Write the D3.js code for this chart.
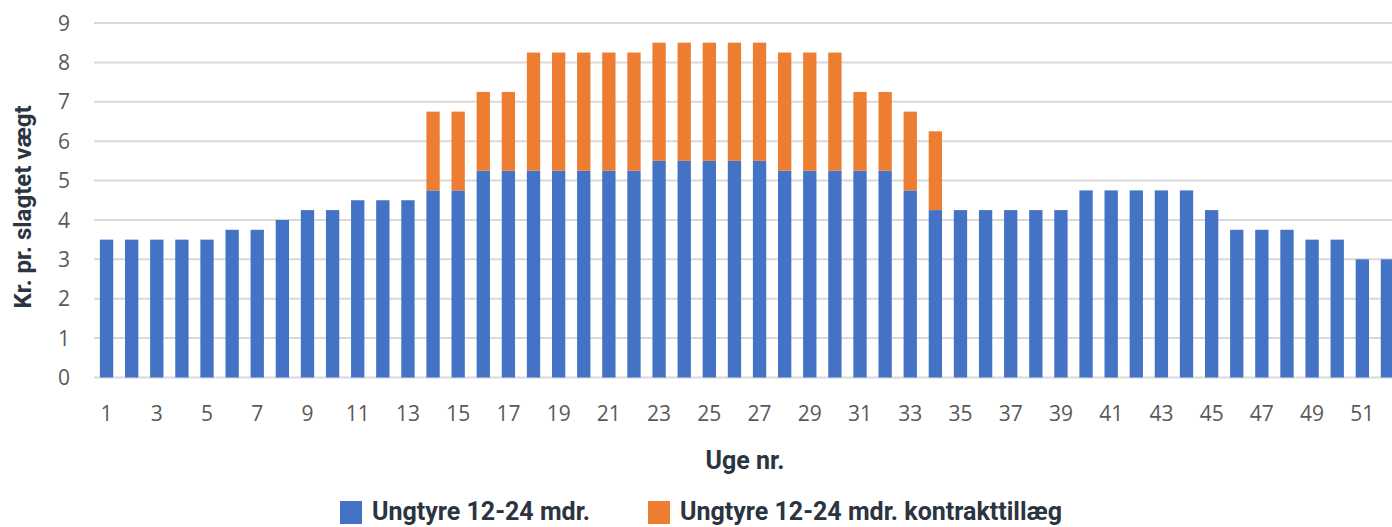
<!DOCTYPE html>
<html><head><meta charset="utf-8">
<script src="https://cdn.jsdelivr.net/npm/d3@7"></script>
<style>body{margin:0;background:#fff}svg{display:block}</style>
</head><body>
<svg id="c" width="1392" height="527"></svg>
<script>
const weeks = d3.range(1, 53);
const base = [3.5,3.5,3.5,3.5,3.5,3.75,3.75,4.0,4.25,4.25,4.5,4.5,4.5,4.75,4.75,5.25,5.25,5.25,5.25,5.25,5.25,5.25,5.5,5.5,5.5,5.5,5.5,5.25,5.25,5.25,5.25,5.25,4.75,4.25,4.25,4.25,4.25,4.25,4.25,4.75,4.75,4.75,4.75,4.75,4.25,3.75,3.75,3.75,3.5,3.5,3.0,3.0];
const bonus = [0,0,0,0,0,0,0,0,0,0,0,0,0,2.0,2.0,2.0,2.0,3.0,3.0,3.0,3.0,3.0,3.0,3.0,3.0,3.0,3.0,3.0,3.0,3.0,2.0,2.0,2.0,2.0,0,0,0,0,0,0,0,0,0,0,0,0,0,0,0,0,0,0];
const yTicks = [0,1,2,3,4,5,6,7,8,9];
const seriesNames = ["Ungtyre 12-24 mdr.", "Ungtyre 12-24 mdr. kontrakttillæg"];
const colors = ["#4472c4", "#ed7d31"];

const svg = d3.select("#c");
const x = d3.scaleBand().domain(weeks).range([94, 1400]).paddingInner(0.47).paddingOuter(0.235);
const y = d3.scaleLinear().domain([0, 9]).range([377.5, 23]);

// gridlines
svg.append("g").selectAll("line").data(yTicks).join("line")
  .attr("x1", 94).attr("x2", 1392)
  .attr("y1", d => y(d)).attr("y2", d => y(d))
  .attr("stroke", "#d9d9d9").attr("stroke-width", 2);

// y labels
svg.append("g").selectAll("text").data(yTicks).join("text")
  .attr("x", 70).attr("y", d => y(d)).attr("dy", "0.36em")
  .attr("text-anchor", "end").attr("fill", "#595959")
  .attr("font-family", "'Open Sans', sans-serif").attr("font-size", 21)
  .text(d => d);

const data = weeks.map((w, i) => ({w, b: base[i], o: bonus[i]}));
svg.append("g").selectAll("rect").data(data).join("rect")
  .attr("x", d => x(d.w)).attr("width", x.bandwidth())
  .attr("y", d => y(d.b)).attr("height", d => y(0) - y(d.b))
  .attr("fill", colors[0]);
svg.append("g").selectAll("rect").data(data.filter(d => d.o > 0)).join("rect")
  .attr("x", d => x(d.w)).attr("width", x.bandwidth())
  .attr("y", d => y(d.b + d.o)).attr("height", d => y(d.b) - y(d.b + d.o))
  .attr("fill", colors[1]);

// x labels (odd weeks)
svg.append("g").selectAll("text").data(weeks.filter(w => w % 2 === 1)).join("text")
  .attr("x", d => x(d) + x.bandwidth() / 2).attr("y", 421)
  .attr("text-anchor", "middle").attr("fill", "#595959")
  .attr("font-family", "'Open Sans', sans-serif").attr("font-size", 21)
  .text(d => d);

// axis titles
svg.append("text").attr("x", 745).attr("y", 469).attr("text-anchor", "middle")
  .attr("fill", "#2b3440").attr("font-family", "Roboto, sans-serif").attr("font-weight", "bold")
  .attr("font-size", 25).text("Uge nr.");
svg.append("text").attr("transform", "translate(31,207) rotate(-90)").attr("text-anchor", "middle")
  .attr("fill", "#2b3440").attr("font-family", "Roboto, sans-serif").attr("font-weight", "bold")
  .attr("font-size", 24).text("Kr. pr. slagtet vægt");

// legend
const lx = [340, 648];
const lg = svg.append("g").selectAll("g").data(seriesNames).join("g")
  .attr("transform", (d, i) => `translate(${lx[i]},501)`);
lg.append("rect").attr("width", 22).attr("height", 23).attr("fill", (d, i) => colors[i]);
lg.append("text").attr("x", 32).attr("y", 19)
  .attr("fill", "#2b3440").attr("font-family", "Roboto, sans-serif").attr("font-weight", "bold")
  .attr("font-size", 25).text(d => d);
</script>
</body></html>
